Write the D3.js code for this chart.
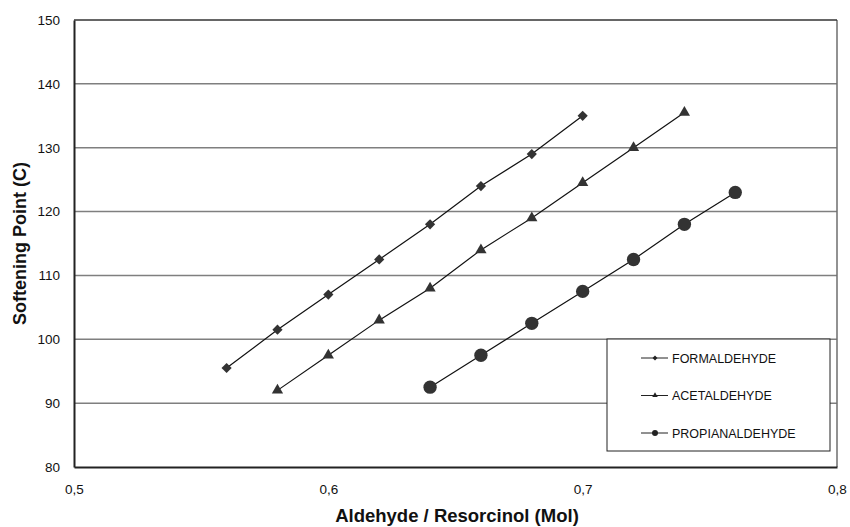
<!DOCTYPE html>
<html>
<head>
<meta charset="utf-8">
<script src="https://cdn.jsdelivr.net/npm/d3@7"></script>
<style>
  html, body { margin: 0; padding: 0; background: #fff; }
  svg { display: block; font-family: "Liberation Sans", Arial, sans-serif; }
</style>
</head>
<body>
<svg id="chart" width="850" height="527"></svg>
<script>
// Molar ratio of aldehyde to resorcinol vs. softening point of the resin
const formaldehydeX = [0.56, 0.58, 0.60, 0.62, 0.64, 0.66, 0.68, 0.70];
const formaldehydeY = [95.5, 101.5, 107, 112.5, 118, 124, 129, 135];

const acetaldehydeX = [0.58, 0.60, 0.62, 0.64, 0.66, 0.68, 0.70, 0.72, 0.74];
const acetaldehydeY = [92, 97.5, 103, 108, 114, 119, 124.5, 130, 135.5];

const propianaldehydeX = [0.64, 0.66, 0.68, 0.70, 0.72, 0.74, 0.76];
const propianaldehydeY = [92.5, 97.5, 102.5, 107.5, 112.5, 118, 123];

const seriesNames = ["FORMALDEHYDE", "ACETALDEHYDE", "PROPIANALDEHYDE"];
const xTicks = [0.5, 0.6, 0.7, 0.8];
const yTicks = [80, 90, 100, 110, 120, 130, 140, 150];

// square turned 45 degrees, same width and height
const squareDiamond = {
  draw(ctx, size) {
    const r = Math.sqrt(size / 2);
    ctx.moveTo(0, -r); ctx.lineTo(r, 0); ctx.lineTo(0, r); ctx.lineTo(-r, 0); ctx.closePath();
  }
};

const series = [
  { name: seriesNames[0], xs: formaldehydeX, ys: formaldehydeY, symbol: squareDiamond, size: 52, lsize: 12 },
  { name: seriesNames[1], xs: acetaldehydeX, ys: acetaldehydeY, symbol: d3.symbolTriangle, size: 55, lsize: 13 },
  { name: seriesNames[2], xs: propianaldehydeX, ys: propianaldehydeY, symbol: d3.symbolCircle, size: 140, lsize: 28 }
];

const svg = d3.select("#chart");
const pLeft = 74, pRight = 837, pTop = 20, pBottom = 467;

const x = d3.scaleLinear().domain([0.5, 0.8]).range([pLeft, pRight]);
const y = d3.scaleLinear().domain([80, 150]).range([pBottom, pTop]);
const fmt = d => d3.format(".1f")(d).replace(".", ",").replace(/,0$/, "");

// horizontal grid lines
svg.append("g")
  .selectAll("line")
  .data(yTicks.filter(t => t > 80 && t < 150))
  .join("line")
  .attr("x1", pLeft).attr("x2", pRight)
  .attr("y1", d => y(d)).attr("y2", d => y(d))
  .attr("stroke", "#7f7f7f").attr("stroke-width", 1.5);

// plot frame
svg.append("line").attr("x1", pRight).attr("x2", pRight).attr("y1", pTop).attr("y2", pBottom)
  .attr("stroke", "#6e6e6e").attr("stroke-width", 1.5);
svg.append("line").attr("x1", pLeft).attr("x2", pRight).attr("y1", pTop).attr("y2", pTop)
  .attr("stroke", "#333").attr("stroke-width", 1.5);

// axes
const yAxis = svg.append("g")
  .attr("transform", `translate(${pLeft},0)`)
  .call(d3.axisLeft(y).tickValues(yTicks).tickSize(0).tickPadding(14).tickFormat(d3.format("d")));
const xAxis = svg.append("g")
  .attr("transform", `translate(0,${pBottom})`)
  .call(d3.axisBottom(x).tickValues(xTicks).tickSize(0).tickPadding(17).tickFormat(fmt));
[xAxis, yAxis].forEach(a => {
  a.select(".domain").attr("stroke", "#222").attr("stroke-width", 2);
  a.selectAll("text").attr("font-size", 13.5).attr("fill", "#111")
    .attr("font-family", "'Liberation Sans', Arial, sans-serif");
});

// axis titles
svg.append("text")
  .attr("x", 457).attr("y", 522)
  .attr("text-anchor", "middle")
  .attr("font-size", 18.5).attr("font-weight", "bold").attr("fill", "#111")
  .text("Aldehyde / Resorcinol (Mol)");
svg.append("text")
  .attr("transform", `translate(26,${(pTop + pBottom) / 2}) rotate(-90)`)
  .attr("text-anchor", "middle")
  .attr("font-size", 18).attr("font-weight", "bold").attr("fill", "#111")
  .text("Softening Point (C)");

// series lines and markers
const line = d3.line().x(d => x(d[0])).y(d => y(d[1]));
series.forEach(s => {
  const pts = s.xs.map((v, i) => [v, s.ys[i]]);
  svg.append("path")
    .datum(pts)
    .attr("d", line)
    .attr("fill", "none").attr("stroke", "#111").attr("stroke-width", 1.2);
  svg.append("g")
    .selectAll("path")
    .data(pts)
    .join("path")
    .attr("transform", d => `translate(${x(d[0])},${y(d[1])})`)
    .attr("d", d3.symbol().type(s.symbol).size(s.size))
    .attr("fill", "#333");
});

// legend
const lg = svg.append("g").attr("transform", "translate(607,339)");
lg.append("rect").attr("width", 223).attr("height", 112)
  .attr("fill", "#fff").attr("stroke", "#222").attr("stroke-width", 1);
series.forEach((s, i) => {
  const ry = 19 + i * 37.5;
  lg.append("line").attr("x1", 34).attr("x2", 61).attr("y1", ry).attr("y2", ry)
    .attr("stroke", "#222").attr("stroke-width", 1);
  lg.append("path")
    .attr("transform", `translate(48,${ry})`)
    .attr("d", d3.symbol().type(s.symbol).size(s.lsize))
    .attr("fill", "#222");
  lg.append("text")
    .attr("x", 65).attr("y", ry + 4.5)
    .attr("font-size", 12.5).attr("fill", "#111")
    .text(s.name);
});
</script>
</body>
</html>
